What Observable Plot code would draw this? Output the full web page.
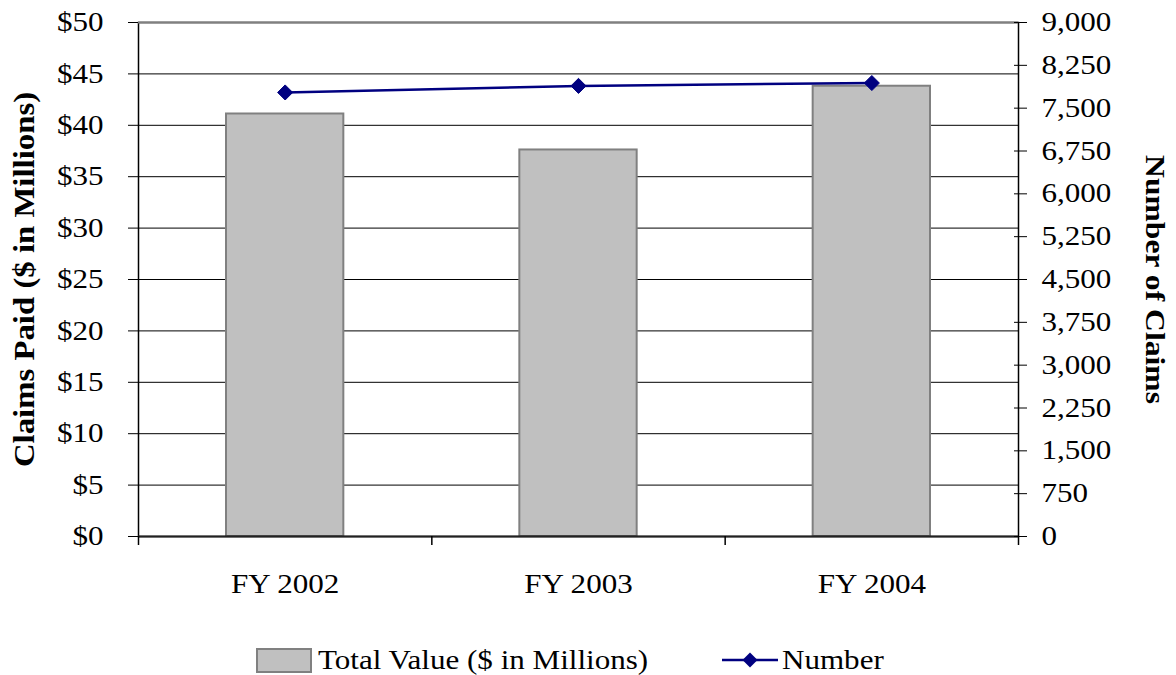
<!DOCTYPE html>
<html>
<head>
<meta charset="utf-8">
<script src="https://cdn.jsdelivr.net/npm/d3@7"></script>
<script src="https://cdn.jsdelivr.net/npm/@observablehq/plot@0.6"></script>
<style>
  body { margin: 0; background: #fff; }
  #wrap { position: relative; width: 1176px; height: 675px; font-family: "Liberation Serif", "Times New Roman", serif; }
  .leg { position: absolute; font-size: 27px; line-height: 30px; color: #000; white-space: nowrap; transform: scaleX(1.15); transform-origin: left center; }
</style>
</head>
<body>
<div id="wrap"></div>
<script>
const categories = ["FY 2002", "FY 2003", "FY 2004"];
const totalValue = [41.1, 37.6, 43.8];          // $ in millions (left axis)
const claimCount = [7775, 7890, 7940];          // number of claims (right axis)
const leftTicks = [0, 5, 10, 15, 20, 25, 30, 35, 40, 45, 50];
const rightTicks = [0, 750, 1500, 2250, 3000, 3750, 4500, 5250, 6000, 6750, 7500, 8250, 9000];
const leftMax = 50;
const rightMax = 9000;

const data = categories.map((c, i) => ({cat: c, value: totalValue[i], count: claimCount[i]}));
const toLeft = v => v / rightMax * leftMax;

const W = 1176, H = 630, mL = 138, mR = 158, mT = 22, mB = 94;
const step = (W - mL - mR) / categories.length;
const tickExt = 9 / (H - mT - mB) * leftMax;

const chart = Plot.plot({
  width: W, height: H,
  marginLeft: mL, marginRight: mR, marginTop: mT, marginBottom: mB,
  style: {fontFamily: "Liberation Serif, Times New Roman, serif", fontSize: "27px", color: "#000", background: "#fff"},
  x: {domain: categories, paddingInner: 0.6, paddingOuter: 0.3, round: false, label: null},
  y: {domain: [0, leftMax], label: null},
  marks: [
    Plot.ruleY(leftTicks.filter(d => d > 0 && d < leftMax), {stroke: "#000", strokeWidth: 1}),
    Plot.barY(data, {x: "cat", y: "value", fill: "#c0c0c0", stroke: "#808080", strokeWidth: 2}),
    Plot.frame({stroke: "#000", strokeWidth: 1.5}),
    Plot.ruleY([0], {stroke: "#222", strokeWidth: 2}),
    Plot.ruleY([leftMax], {stroke: "#808080", strokeWidth: 2}),
    Plot.ruleX(categories, {x: d => d, dx: -step / 2, y1: 0, y2: -tickExt, stroke: "#000", strokeWidth: 1.5}),
    Plot.ruleX([categories[categories.length - 1]], {x: d => d, dx: step / 2, y1: 0, y2: -tickExt, stroke: "#000", strokeWidth: 1.5}),
    Plot.line(data, {x: "cat", y: d => toLeft(d.count), stroke: "#000080", strokeWidth: 2.5}),
    Plot.dot(data, {x: "cat", y: d => toLeft(d.count), symbol: "diamond2", r: 6.8, fill: "#000080", stroke: "#000080", strokeWidth: 1}),
    Plot.axisY(leftTicks, {anchor: "left", tickFormat: d => "$" + d, tickSize: 10, tickPadding: 25, stroke: "#000", label: null}),
    Plot.axisY(rightTicks.map(toLeft), {anchor: "right", dx: -5, tickSize: 13, tickPadding: 15,
      tickFormat: d => d3.format(",")(Math.round(d / leftMax * rightMax)), stroke: "#000", label: null}),
    Plot.axisX({anchor: "bottom", tickSize: 0, tickPadding: 37, label: null}),
    Plot.text(["Claims Paid ($ in Millions)"], {frameAnchor: "left", dx: -114, rotate: -90, textAnchor: "middle", lineAnchor: "middle", fontWeight: "bold", fontSize: 28.5}),
    Plot.text(["Number of Claims"], {frameAnchor: "right", dx: 136, rotate: 90, textAnchor: "middle", lineAnchor: "middle", fontWeight: "bold", fontSize: 27.5})
  ]
});

const wrap = document.getElementById("wrap");
wrap.appendChild(chart);

// The reference glyphs are horizontally wider than Times at the same height: stretch text.
chart.querySelectorAll("text").forEach(t => {
  const len = t.getComputedTextLength();
  if (len > 0) {
    t.setAttribute("textLength", (len * 1.15).toFixed(2));
    t.setAttribute("lengthAdjust", "spacingAndGlyphs");
  }
});

const leg = document.createElement("div");
leg.innerHTML = `
  <div style="position:absolute;left:256px;top:648px;width:52px;height:21px;background:#c0c0c0;border:2px solid #808080;"></div>
  <div class="leg" style="left:318px;top:645px;">Total Value ($ in Millions)</div>
  <svg style="position:absolute;left:720px;top:650px;" width="60" height="20">
    <line x1="2" y1="10" x2="58" y2="10" stroke="#000080" stroke-width="2.5"/>
    <path d="M30,2.5 L37.5,10 L30,17.5 L22.5,10 Z" fill="#000080"/>
  </svg>
  <div class="leg" style="left:782px;top:645px;">Number</div>`;
wrap.appendChild(leg);
</script>
</body>
</html>
